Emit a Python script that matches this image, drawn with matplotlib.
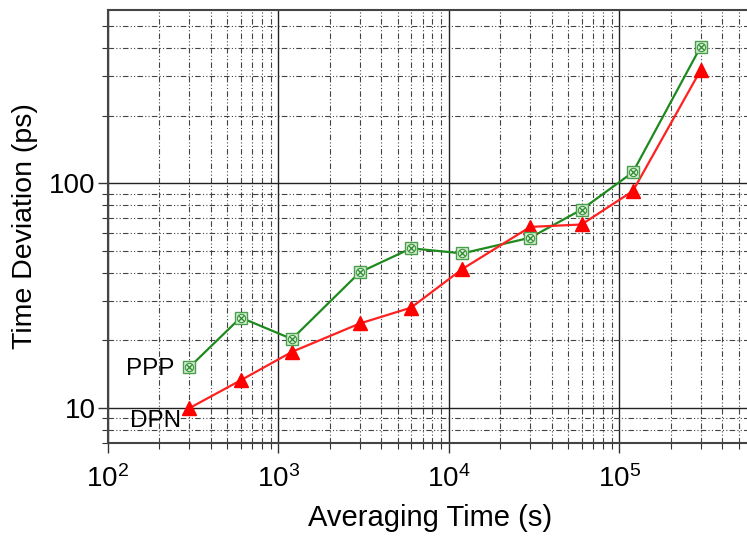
import matplotlib
matplotlib.use("Agg")
import matplotlib.pyplot as plt
import numpy as np

plt.rcParams['font.family'] = ['Liberation Sans', 'DejaVu Sans']
plt.rcParams['mathtext.fontset'] = 'custom'
plt.rcParams['mathtext.rm'] = 'Liberation Sans'
plt.rcParams['mathtext.it'] = 'Liberation Sans:italic'

# averaging times (s)
tau = [300, 600, 1200, 3000, 6000, 12000, 30000, 60000, 120000, 300000]
# time deviation (ps)
ppp = [15.2, 25.3, 20.3, 40.2, 51.4, 48.8, 57.3, 76.4, 112, 405]
dpn = [10.0, 13.3, 17.8, 23.8, 28.0, 41.6, 64.0, 65.6, 92.4, 319]

xticks = [1e2, 1e3, 1e4, 1e5]
xticklabels = ['10$^2$', '10$^3$', '10$^4$', '10$^5$']
yticks = [10, 100]
yticklabels = ['10', '100']

fig = plt.figure(figsize=(7.47, 5.37), dpi=100)
ax = fig.add_axes([108/747, 94/537, 644/747, 433/537])

ax.set_xscale('log')
ax.set_yscale('log')
ax.set_xlim(1e2, 6e5)
ax.set_ylim(7, 590)

ax.grid(True, which='major', color='#222222', linewidth=1.0, linestyle='-')
ax.grid(True, which='minor', color='#444444', linewidth=0.8,
        linestyle=(0, (5, 2, 1, 2, 1, 2)))
ax.set_axisbelow(True)

ax.plot(tau, ppp, color='#1e8a1e', linewidth=1.6, zorder=3)
ax.plot(tau, ppp, linestyle='none', marker='s', markersize=8,
        markerfacecolor='#d8ecd8', markeredgecolor='#4aa04a', markeredgewidth=1.0, zorder=4)
ax.plot(tau, ppp, linestyle='none', marker='o', markersize=6,
        markerfacecolor='none', markeredgecolor='#3a9a3a', markeredgewidth=0.8, zorder=5)
ax.plot(tau, ppp, linestyle='none', marker='x', markersize=5,
        markeredgecolor='#2e8b2e', markeredgewidth=0.9, zorder=6)

ax.plot(tau, dpn, color='#ff2020', linewidth=1.6, marker='^', markersize=10,
        markerfacecolor='#ff0000', markeredgecolor='#ff0000', zorder=3)

ax.text(177, 14.9, 'PPP', fontsize=17.5, ha='center', va='center')
ax.text(189, 8.75, 'DPN', fontsize=17.5, ha='center', va='center')

ax.set_xticks(xticks)
ax.set_xticklabels(xticklabels, fontsize=20)
ax.set_yticks(yticks)
ax.set_yticklabels(yticklabels, fontsize=20)
ax.tick_params(which='major', direction='out', length=7, width=1.0, color='#333333')
ax.tick_params(axis='x', which='major', pad=9)
ax.tick_params(axis='y', which='major', pad=2)
ax.tick_params(which='minor', direction='out', length=4, width=0.8, color='#333333')
ax.tick_params(axis='y', which='minor', labelleft=False)
ax.tick_params(axis='x', which='minor', labelbottom=False)

for s in ['left', 'bottom', 'top']:
    ax.spines[s].set_color('#444444')
    ax.spines[s].set_linewidth(1.5)
ax.spines['right'].set_visible(False)

ax.set_xlabel('Averaging Time (s)', fontsize=21, labelpad=8)
ax.set_ylabel('Time Deviation (ps)', fontsize=20.5, labelpad=8)

fig.savefig('out.png', dpi=100)
